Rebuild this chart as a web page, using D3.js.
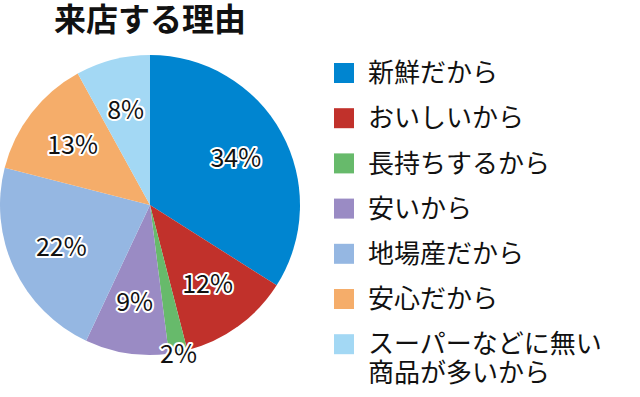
<!DOCTYPE html>
<html>
<head>
<meta charset="utf-8">
<script src="https://cdn.jsdelivr.net/npm/d3@7"></script>
<style>
  body { margin: 0; background: #fff; }
  svg text { font-family: "Noto Sans CJK JP", "Noto Sans", sans-serif; }
</style>
</head>
<body>
<div id="chart"></div>
<script>
// chart data
var reasons = ["新鮮だから", "おいしいから", "長持ちするから", "安いから", "地場産だから", "安心だから", "スーパーなどに無い\n商品が多いから"];
var shares = [34, 12, 2, 9, 22, 13, 8];
var colors = ["#0085d0", "#c1312b", "#67ba6b", "#9a8bc4", "#95b7e2", "#f5ad6a", "#a3d8f4"];

var svgWidth = 640;
var svgHeight = 397;

var svg = d3.select("#chart")
  .append("svg")
  .attr("width", svgWidth)
  .attr("height", svgHeight);

// title
svg.append("text")
  .attr("x", 54)
  .attr("y", 31)
  .attr("font-size", 32)
  .attr("font-weight", "bold")
  .attr("fill", "#111")
  .text("来店する理由");

var radius = 150;
var pieGroup = svg.append("g")
  .attr("transform", "translate(150, 205)");

var pie = d3.pie().sort(null).value(d => d);
var arcs = pie(shares);

var arc = d3.arc().innerRadius(0).outerRadius(radius);
var labelArc = d3.arc().innerRadius(98).outerRadius(98);
var outerArc = d3.arc().innerRadius(152).outerRadius(152);

pieGroup.selectAll("path")
  .data(arcs)
  .enter()
  .append("path")
  .attr("d", arc)
  .attr("fill", (d, i) => colors[i]);

// percent labels with white halo
pieGroup.selectAll(".pct")
  .data(arcs)
  .enter()
  .append("text")
  .attr("class", "pct")
  .attr("transform", d => {
    var c = d.data < 5 ? outerArc.centroid(d) : labelArc.centroid(d);
    return `translate(${c[0]}, ${c[1]})`;
  })
  .attr("text-anchor", "middle")
  .attr("dy", "0.36em")
  .attr("font-size", 25)
  .attr("fill", "#111")
  .attr("stroke", "#fff")
  .attr("stroke-width", 4)
  .attr("stroke-linejoin", "round")
  .attr("paint-order", "stroke")
  .text(d => d.data + "%");

// legend
var legend = svg.append("g")
  .attr("transform", "translate(334, 63)");

var rows = legend.selectAll("g")
  .data(reasons)
  .enter()
  .append("g")
  .attr("transform", (d, i) => `translate(0, ${i * 45.2})`);

rows.append("rect")
  .attr("width", 20)
  .attr("height", 20)
  .attr("fill", (d, i) => colors[i]);

rows.append("text")
  .attr("y", 10)
  .attr("font-size", 26)
  .attr("fill", "#111")
  .each(function(d) {
    var t = d3.select(this);
    d.split("\n").forEach((line, j) => {
      t.append("tspan")
        .attr("x", 34)
        .attr("dy", j === 0 ? "0.35em" : "1.1em")
        .text(line);
    });
  });
</script>
</body>
</html>
